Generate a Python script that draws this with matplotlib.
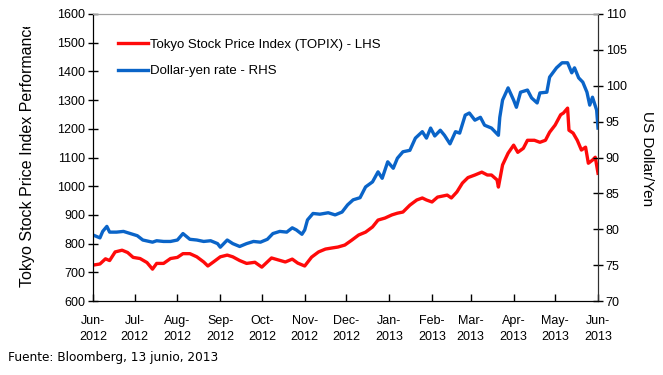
"""
TOPIX vs dollar-yen, Jun-2012 to Jun-2013 (twin y axes).
"""

import matplotlib
matplotlib.use("Agg")
import matplotlib.pyplot as plt
import matplotlib.dates as mdates
from matplotlib.transforms import Bbox
import pandas as pd

# TOPIX (left axis)
topix_dates = [
    "2012-06-13", "2012-06-18", "2012-06-22", "2012-06-25", "2012-06-29",
    "2012-07-04", "2012-07-08", "2012-07-12", "2012-07-17", "2012-07-22",
    "2012-07-26", "2012-07-29", "2012-08-03", "2012-08-08", "2012-08-13",
    "2012-08-17", "2012-08-22", "2012-08-27", "2012-09-01", "2012-09-04",
    "2012-09-08", "2012-09-13", "2012-09-18", "2012-09-22", "2012-09-27",
    "2012-10-02", "2012-10-08", "2012-10-13", "2012-10-20", "2012-10-25",
    "2012-10-30", "2012-11-04", "2012-11-08", "2012-11-13", "2012-11-18",
    "2012-11-23", "2012-11-28", "2012-12-03", "2012-12-07", "2012-12-12",
    "2012-12-17", "2012-12-22", "2012-12-27", "2013-01-01", "2013-01-05",
    "2013-01-10", "2013-01-15", "2013-01-19", "2013-01-23", "2013-01-28",
    "2013-02-02", "2013-02-06", "2013-02-09", "2013-02-13", "2013-02-17",
    "2013-02-24", "2013-02-27", "2013-03-03", "2013-03-07", "2013-03-11",
    "2013-03-16", "2013-03-21", "2013-03-25", "2013-03-28", "2013-04-01",
    "2013-04-02", "2013-04-05", "2013-04-09", "2013-04-13", "2013-04-16",
    "2013-04-20", "2013-04-23", "2013-04-28", "2013-05-02", "2013-05-06",
    "2013-05-09", "2013-05-13", "2013-05-17", "2013-05-19", "2013-05-22",
    "2013-05-23", "2013-05-26", "2013-05-29", "2013-06-01", "2013-06-04",
    "2013-06-06", "2013-06-09", "2013-06-11", "2013-06-13",
]
topix = [
    725, 729, 747, 741, 771,
    777, 769, 752, 748, 734,
    711, 731, 731, 748, 752,
    765, 765, 754, 736, 722,
    736, 754, 760, 754, 741,
    731, 735, 718, 750, 743,
    736, 746, 732, 722, 753,
    771, 781, 785, 788, 795,
    812, 830, 840, 858, 882,
    889, 900, 906, 910, 934,
    952, 959, 952, 945, 962,
    969, 959, 980, 1011, 1030,
    1039, 1049, 1039, 1039, 1022,
    997, 1074, 1115, 1143, 1118,
    1132, 1160, 1160, 1153, 1160,
    1188, 1213, 1249, 1255, 1272,
    1195, 1185, 1160, 1126, 1136,
    1080, 1091, 1101, 1045,
]

# Dollar-yen (right axis)
usdjpy_dates = [
    "2012-06-13", "2012-06-18", "2012-06-20", "2012-06-23", "2012-06-25",
    "2012-06-30", "2012-07-05", "2012-07-10", "2012-07-15", "2012-07-19",
    "2012-07-26", "2012-07-29", "2012-08-03", "2012-08-08", "2012-08-13",
    "2012-08-17", "2012-08-22", "2012-08-27", "2012-09-01", "2012-09-06",
    "2012-09-11", "2012-09-13", "2012-09-18", "2012-09-22", "2012-09-27",
    "2012-10-02", "2012-10-07", "2012-10-12", "2012-10-17", "2012-10-21",
    "2012-10-26", "2012-10-31", "2012-11-04", "2012-11-07", "2012-11-11",
    "2012-11-13", "2012-11-15", "2012-11-19", "2012-11-24", "2012-11-30",
    "2012-12-05", "2012-12-10", "2012-12-14", "2012-12-18", "2012-12-23",
    "2012-12-27", "2013-01-01", "2013-01-05", "2013-01-08", "2013-01-12",
    "2013-01-16", "2013-01-19", "2013-01-23", "2013-01-28", "2013-02-01",
    "2013-02-06", "2013-02-09", "2013-02-12", "2013-02-15", "2013-02-19",
    "2013-02-22", "2013-02-26", "2013-03-02", "2013-03-05", "2013-03-09",
    "2013-03-12", "2013-03-16", "2013-03-20", "2013-03-23", "2013-03-28",
    "2013-04-02", "2013-04-03", "2013-04-05", "2013-04-09", "2013-04-13",
    "2013-04-15", "2013-04-18", "2013-04-23", "2013-04-26", "2013-04-30",
    "2013-05-02", "2013-05-07", "2013-05-09", "2013-05-14", "2013-05-18",
    "2013-05-22", "2013-05-25", "2013-05-27", "2013-05-30", "2013-06-02",
    "2013-06-05", "2013-06-07", "2013-06-09", "2013-06-12", "2013-06-13",
]
usdjpy = [
    79.2, 78.8, 79.7, 80.4, 79.6,
    79.6, 79.7, 79.4, 79.1, 78.5,
    78.2, 78.4, 78.3, 78.3, 78.5,
    79.4, 78.6, 78.5, 78.3, 78.4,
    78.0, 77.5, 78.5, 78.0, 77.6,
    78.0, 78.3, 78.2, 78.6, 79.4,
    79.7, 79.6, 80.2, 79.9, 79.3,
    79.9, 81.3, 82.2, 82.1, 82.3,
    82.0, 82.4, 83.4, 84.1, 84.4,
    85.9, 86.6, 88.0, 87.1, 89.4,
    88.5, 89.9, 90.8, 91.0, 92.7,
    93.6, 92.7, 94.1, 93.0, 93.8,
    93.1, 91.9, 93.6, 93.4, 95.9,
    96.2, 95.2, 95.6, 94.5, 94.1,
    93.1, 95.6, 98.0, 99.7, 98.0,
    97.0, 99.1, 99.4, 98.3, 97.6,
    99.0, 99.1, 101.2, 102.5, 103.2,
    103.2, 101.8, 102.5, 101.1, 100.5,
    99.1, 97.3, 98.4, 96.6, 94.1,
]

# x ticks fall on the 13th of each month (Excel date axis starting at first obs)
tick_dates = pd.date_range("2012-06-01", "2013-06-01", freq="MS") + pd.Timedelta(days=12)

RED = "#ff0a0a"
BLUE = "#0a64c8"

plt.rcParams["font.family"] = ["Liberation Sans", "DejaVu Sans"]

fig = plt.figure(figsize=(6.63, 3.75), dpi=100)
ax = fig.add_axes([0.1403, 0.1973, 0.7617, 0.7654])
ax2 = ax.twinx()

l1, = ax.plot(pd.to_datetime(topix_dates), topix, color=RED, lw=2.4,
              label="Tokyo Stock Price Index (TOPIX) - LHS")
l2, = ax2.plot(pd.to_datetime(usdjpy_dates), usdjpy, color=BLUE, lw=2.4,
               label="Dollar-yen rate - RHS")

ax.set_xlim(pd.Timestamp("2012-06-13"), pd.Timestamp("2013-06-13"))
ax.set_ylim(600, 1600)
ax.set_yticks(range(600, 1601, 100))
ax2.set_ylim(70, 110)
ax2.set_yticks(range(70, 111, 5))

ax.set_xticks(tick_dates)
ax.xaxis.set_major_formatter(mdates.DateFormatter("%b-\n%Y"))

ax.tick_params(axis="y", direction="inout", length=7, width=1, labelsize=9, pad=2)
ax2.tick_params(axis="y", direction="inout", length=7, width=1, labelsize=9, pad=2)
ax.tick_params(axis="x", direction="in", length=5, width=1, labelsize=9, pad=10)
for lab in ax.get_xticklabels():
    lab.set_linespacing(1.5)

for a in (ax, ax2):
    a.spines["top"].set_color("#a0a0a0")
    a.spines["left"].set_color("black")
    a.spines["bottom"].set_color("black")
    a.spines["right"].set_color("#303030")

# left title is cut off at the top in the original
ylab = fig.text(28 / 663, 1 - 153 / 375, "Tokyo Stock Price Index Performance",
                rotation=90, ha="center", va="center", fontsize=11.5)
ylab.set_clip_box(Bbox.from_extents(0, 0, 663, 375 - 27))
ylab.set_clip_on(True)

fig.text(647 / 663, 1 - 159 / 375, "US Dollar/Yen",
         rotation=270, ha="center", va="center", fontsize=11)

ax.legend(handles=[l1, l2], loc="upper left", bbox_to_anchor=(0.04, 0.933),
          frameon=False, fontsize=9.5, handlelength=2.2, handletextpad=0.2,
          labelspacing=1.1, borderaxespad=0)

fig.text(8 / 663, 1 - 358 / 375, "Fuente: Bloomberg, 13 junio, 2013",
         fontsize=8.7, family="DejaVu Sans", va="center")

fig.savefig("out.png", dpi=100)
